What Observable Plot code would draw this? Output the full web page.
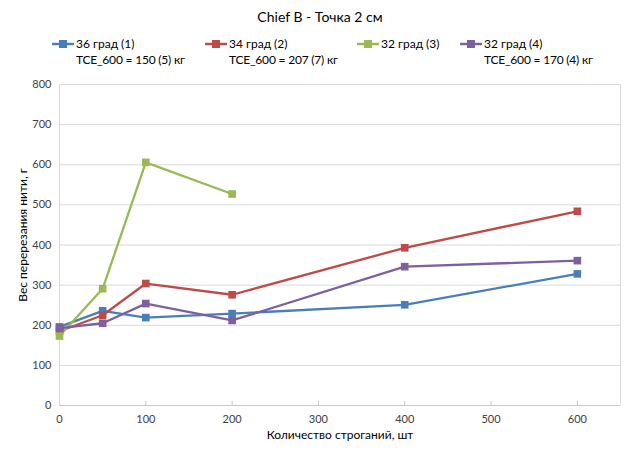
<!DOCTYPE html>
<html><head><meta charset="utf-8">
<script src="https://cdn.jsdelivr.net/npm/d3@7"></script>
<script src="https://cdn.jsdelivr.net/npm/@observablehq/plot@0.6"></script>
<style>
body{margin:0;background:#fff;font-family:Lato,"Open Sans",sans-serif;}
#wrap{position:relative;width:640px;height:457px;}
#head{position:relative;width:640px;height:75px;}
.t{position:absolute;white-space:nowrap;color:#000;}
</style></head><body>
<div id="wrap"><div id="head"></div><div id="chart"></div></div>
<script>
const title = "Chief B - Точка 2 см";
const xLabel = "Количество строганий, шт";
const yLabel = "Вес перерезания нити, г";
const seriesNames = ["36 град (1)", "34 град (2)", "32 град (3)", "32 град (4)"];
const seriesNotes = ["TCE_600 = 150 (5) кг", "TCE_600 = 207 (7) кг", "", "TCE_600 = 170 (4) кг"];
const colors = ["#4A7EBB", "#BE4B48", "#98B954", "#7D60A0"];
const x36 = [0, 50, 100, 200, 400, 600];
const y36 = [196, 236, 219, 229, 251, 328];
const x34 = [0, 50, 100, 200, 400, 600];
const y34 = [185, 225, 304, 276, 393, 484];
const x32a = [0, 50, 100, 200];
const y32a = [173, 291, 606, 527];
const x32b = [0, 50, 100, 200, 400, 600];
const y32b = [193, 205, 254, 212, 346, 361];
const xTicks = [0, 100, 200, 300, 400, 500, 600];
const yTicks = [0, 100, 200, 300, 400, 500, 600, 700, 800];

const xs = [x36, x34, x32a, x32b];
const ys = [y36, y34, y32a, y32b];
const data = [];
seriesNames.forEach((s, i) => xs[i].forEach((x, j) => data.push({series: s, x, y: ys[i][j]})));

// header: title + legend
const head = document.getElementById("head");
const tt = document.createElement("div");
tt.className = "t"; tt.textContent = title;
tt.style.cssText = "left:0;width:640px;text-align:center;top:8px;font-size:14px;";
head.appendChild(tt);
const legX = [52, 205, 357, 460];
seriesNames.forEach((s, i) => {
  const sw = document.createElementNS("http://www.w3.org/2000/svg", "svg");
  sw.setAttribute("width", 22); sw.setAttribute("height", 10);
  sw.style.cssText = `position:absolute;left:${legX[i]}px;top:39px;`;
  sw.innerHTML = `<line x1="0" x2="22" y1="5" y2="5" stroke="${colors[i]}" stroke-width="2.5"/><rect x="7" y="1" width="8" height="8" fill="${colors[i]}"/>`;
  head.appendChild(sw);
  const l = document.createElement("div");
  l.className = "t"; l.textContent = s;
  l.style.cssText = `left:${legX[i]+24}px;top:36px;font-size:12px;`;
  head.appendChild(l);
  if (seriesNotes[i]) {
    const n = document.createElement("div");
    n.className = "t"; n.textContent = seriesNotes[i];
    n.style.cssText = `left:${legX[i]+24}px;top:52px;font-size:12px;letter-spacing:-0.2px;`;
    head.appendChild(n);
  }
});

const plot = Plot.plot({
  width: 640, height: 382,
  marginLeft: 59, marginRight: 20, marginTop: 9, marginBottom: 52,
  style: {fontFamily: "Lato, 'Open Sans', sans-serif", fontSize: "11px", color: "#404040", background: "#fff"},
  x: {domain: [0, 650], ticks: xTicks},
  y: {domain: [0, 800], ticks: yTicks},
  color: {domain: seriesNames, range: colors},
  marks: [
    Plot.gridY(yTicks, {stroke: "#d9d9d9", strokeOpacity: 1, strokeWidth: 1}),
    Plot.ruleX([650], {stroke: "#d9d9d9", strokeWidth: 1}),
    Plot.ruleY([0], {stroke: "#c8c8c8", strokeWidth: 1}),
    Plot.ruleX([0], {stroke: "#d9d9d9", strokeWidth: 1}),
    Plot.ruleX(xTicks.slice(1), {x: d => d, y1: 0, y2: 10, stroke: "#c8c8c8"}),
    Plot.axisX({ticks: xTicks, tickSize: 0, tickPadding: 10, label: null, fill: "#404040"}),
    Plot.axisY({ticks: yTicks, tickSize: 0, tickPadding: 8, label: null, fill: "#404040"}),
    Plot.line(data, {x: "x", y: "y", z: "series", stroke: "series", strokeWidth: 2.3}),
    Plot.dot(data, {x: "x", y: "y", fill: "series", symbol: "square", r: 4.3, stroke: "none"}),
    Plot.text([xLabel], {frameAnchor: "bottom", dy: 33, fontSize: 12, fill: "#000"}),
    Plot.text([yLabel], {frameAnchor: "left", textAnchor: "middle", dx: -36, dy: -10, rotate: -90, fontSize: 12, fill: "#000"})
  ]
});
document.getElementById("chart").appendChild(plot);
</script></body></html>
